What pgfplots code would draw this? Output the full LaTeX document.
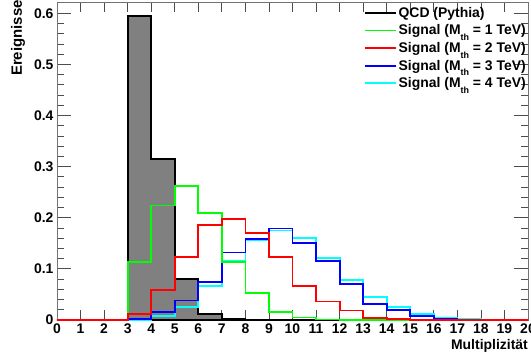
\documentclass[border=0pt]{standalone}
\usepackage{fontspec}
\setmainfont{Liberation Sans}
\usepackage{pgfplots}
\usepackage{pgfplotstable}
\pgfplotsset{compat=1.18}
\pgfplotstableread{
x qcd sa sb sc sd
0 0 0 0 0 0
1 0 0 0 0 0
2 0 0 0 0 0
3 0.595 0.113 0.0117 0.0015 0.0005
4 0.3145 0.224 0.0587 0.015 0.008
5 0.080 0.262 0.123 0.038 0.026
6 0.012 0.209 0.186 0.074 0.067
7 0.002 0.1135 0.197 0.132 0.115
8 0 0.053 0.170 0.158 0.157
9 0 0.0157 0.124 0.179 0.175
10 0 0.005 0.0665 0.151 0.160
11 0 0.001 0.036 0.115 0.121
12 0 0 0.0186 0.0705 0.078
13 0 0 0.0045 0.031 0.0456
14 0 0 0.0015 0.0196 0.025
15 0 0 0.0005 0.0072 0.011
16 0 0 0 0.0026 0.0045
17 0 0 0 0.0005 0.002
18 0 0 0 0 0.0005
19 0 0 0 0 0
20 0 0 0 0 0
}\hist
\definecolor{colA}{rgb}{0,1,0}
\definecolor{colB}{rgb}{1,0,0}
\definecolor{colC}{rgb}{0,0,1}
\definecolor{colD}{rgb}{0,1,1}
\newcommand{\sig}[1]{Signal (M\lower0.8ex\hbox{\fontsize{9}{9}\selectfont th} = #1 TeV)}
\begin{document}
\begin{tikzpicture}
\useasboundingbox (-57bp,-40bp) rectangle (474bp,320bp);
\begin{axis}[
  at={(0,0)}, anchor=south west,
  scale only axis, width=471bp, height=318bp,
  xmin=0, xmax=20, ymin=0, ymax=0.622,
  clip=false,
  axis line style={black!55, line width=0.8bp},
  every tick/.style={black!70, line width=0.8bp},
  xtick={0,...,20},
  ytick={0,0.1,...,0.6},
  minor y tick num=4,
  major tick length=10bp, minor tick length=6bp,
  ytick style={/pgfplots/major tick length=14bp, /pgfplots/minor tick length=7bp},
  tick label style={font=\bfseries\fontsize{14}{15}\selectfont},
  /pgf/number format/assume math mode=true,
  yticklabel style={/pgf/number format/fixed, /pgf/number format/precision=1},
  xlabel={Multiplizität},
  xlabel style={at={(axis description cs:1,-0.082)}, anchor=east, inner sep=0pt, font=\bfseries\fontsize{14}{15}\selectfont},
  legend style={draw=none, fill=none, at={(axis description cs:1,1)}, anchor=north east,
    inner xsep=0pt, inner ysep=3bp, row sep=2bp,
    font=\bfseries\fontsize{14}{15}\selectfont},
  legend cell align=left,
  legend image code/.code={\draw[#1, line width=1.8bp] (0,0) -- (31bp,0);},
]
\addplot[const plot mark left, color=black, line width=1.8bp, fill=black!50, forget plot] table[x=x, y=qcd] {\hist} \closedcycle;
\addplot[const plot mark left, color=colD, line width=1.8bp, forget plot] table[x=x, y=sd] {\hist};
\addplot[const plot mark left, color=colC, line width=1.8bp, forget plot] table[x=x, y=sc] {\hist};
\addplot[const plot mark left, color=colA, line width=1.8bp, forget plot] table[x=x, y=sa] {\hist};
\addplot[const plot mark left, color=colB, line width=1.8bp, forget plot] table[x=x, y=sb] {\hist};
\addlegendimage{color=black}
\addlegendentry{QCD (Pythia)}
\addlegendimage{color=colA}
\addlegendentry{\sig{1}}
\addlegendimage{color=colB}
\addlegendentry{\sig{2}}
\addlegendimage{color=colC}
\addlegendentry{\sig{3}}
\addlegendimage{color=colD}
\addlegendentry{\sig{4}}
\end{axis}
\node[rotate=90, anchor=east, inner sep=0pt, font=\bfseries\fontsize{15}{16}\selectfont] at (-39bp,320bp) {Ereignisse};
\end{tikzpicture}
\end{document}
